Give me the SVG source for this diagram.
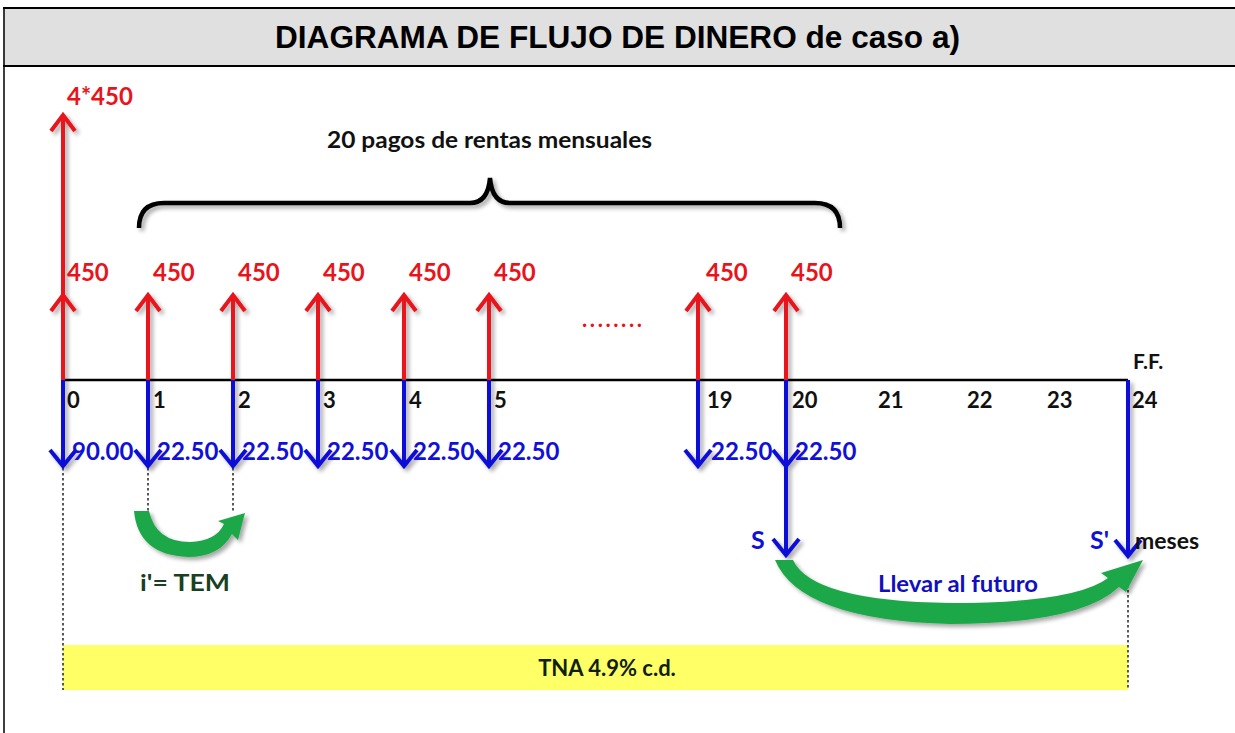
<svg xmlns="http://www.w3.org/2000/svg" width="1235" height="733" viewBox="0 0 1235 733">
<defs>
<style>
.hdr{font-family:"Liberation Sans",Arial,sans-serif;font-weight:bold;font-size:31px;fill:#000}
.t{font-family:Lato,"Open Sans",sans-serif;font-weight:bold}
.red{fill:#e8141c;font-size:24px}
.blue{fill:#1010d8;font-size:24px}
.blk{fill:#111;font-size:22px}
.up{stroke:#e8141c;stroke-width:4;fill:none}
.dn{stroke:#1010d8;stroke-width:4;fill:none}
.dot{stroke:#000;stroke-width:1.3;stroke-dasharray:2.5 2.5;fill:none}
.grn{fill:#1fa84a}
</style>
<filter id="sh" x="-20%" y="-20%" width="140%" height="140%">
<feGaussianBlur in="SourceAlpha" stdDeviation="2"/>
<feOffset dx="3" dy="3" result="b"/>
<feComponentTransfer><feFuncA type="linear" slope="0.35"/></feComponentTransfer>
<feMerge><feMergeNode/><feMergeNode in="SourceGraphic"/></feMerge>
</filter>
</defs>
<rect x="0" y="0" width="1235" height="733" fill="#fff"/>
<g id="header">
<rect x="3" y="8" width="1235" height="58" fill="#e0e0e0"/>
<line x1="3" y1="8" x2="1235" y2="8" stroke="#000" stroke-width="2"/>
<line x1="3" y1="66" x2="1235" y2="66" stroke="#000" stroke-width="2"/>
<line x1="4" y1="8" x2="4" y2="733" stroke="#000" stroke-width="1.5"/>
<text class="hdr" x="275" y="48" textLength="685" lengthAdjust="spacingAndGlyphs">DIAGRAMA DE FLUJO DE DINERO de caso a)</text>
</g>
<g id="band">
<rect x="63" y="645" width="1065" height="45" fill="#ffff66"/>
<text class="t" x="607" y="676" text-anchor="middle" style="font-size:22px;fill:#102010">TNA 4.9% c.d.</text>
</g>
<g id="connectors">
<line class="dot" x1="63" y1="468" x2="63" y2="690"/>
<line class="dot" x1="148" y1="468" x2="148" y2="512"/>
<line class="dot" x1="233" y1="468" x2="233" y2="512"/>
<line class="dot" x1="1128" y1="580" x2="1128" y2="690"/>
</g>
<g id="timeline">
<line x1="63" y1="380" x2="1128" y2="380" stroke="#000" stroke-width="2.5"/>
</g>
<g id="up-arrows" filter="url(#sh)">
<path class="up" d="M63 380V115M51 131L63 115L75 131M51 311L63 295L75 311"/>
<path class="up" d="M148 380V295M136 311L148 295L160 311"/>
<path class="up" d="M233 380V295M221 311L233 295L245 311"/>
<path class="up" d="M318 380V295M306 311L318 295L330 311"/>
<path class="up" d="M404 380V295M392 311L404 295L416 311"/>
<path class="up" d="M489 380V295M477 311L489 295L501 311"/>
<path class="up" d="M698 380V295M686 311L698 295L710 311"/>
<path class="up" d="M786 380V295M774 311L786 295L798 311"/>
</g>
<g id="down-arrows" filter="url(#sh)">
<path class="dn" d="M63 380V466M50 450L63 466L76 450"/>
<path class="dn" d="M148 380V466M135 450L148 466L161 450"/>
<path class="dn" d="M233 380V466M220 450L233 466L246 450"/>
<path class="dn" d="M318 380V466M305 450L318 466L331 450"/>
<path class="dn" d="M404 380V466M391 450L404 466L417 450"/>
<path class="dn" d="M489 380V466M476 450L489 466L502 450"/>
<path class="dn" d="M698 380V466M685 450L698 466L711 450"/>
<path class="dn" d="M786 380V555M773 450L786 466L799 450M773 539L786 555L799 539"/>
<path class="dn" d="M1128 380V556M1115 540L1128 556L1141 540"/>
</g>
<g id="brace" filter="url(#sh)">
<path d="M139 228Q139 203 164 203H470Q488 203 490 178Q492 203 510 203H815Q840 203 840 228" stroke="#000" stroke-width="4.5" fill="none"/>
</g>
<g id="green-arrows" filter="url(#sh)">
<path class="grn" d="M134 511L149 511Q156 542 190 542Q216 541 224 524L218 521L245 513L238 540L232 534Q220 557 188 557Q138 555 134 511Z"/>
<path class="grn" d="M775 560L793 560Q812 601 950 603Q1075 603 1108 578L1101 573L1143 560L1126 592L1119 587Q1080 624 950 624Q800 620 775 560Z"/>
</g>
<g id="labels">
<text class="t red" x="67" y="105">4*450</text>
<text class="t red" x="67" y="281">450</text>
<text class="t red" x="153" y="281">450</text>
<text class="t red" x="238" y="281">450</text>
<text class="t red" x="323" y="281">450</text>
<text class="t red" x="409" y="281">450</text>
<text class="t red" x="494" y="281">450</text>
<text class="t red" x="706" y="281">450</text>
<text class="t red" x="791" y="281">450</text>
<text class="t red" x="582" y="327" textLength="60" style="font-size:22px">........</text>
<text class="t" x="327" y="148" textLength="325" lengthAdjust="spacingAndGlyphs" style="font-size:23px;fill:#111">20 pagos de rentas mensuales</text>
<text class="t blk" x="67" y="408">0</text>
<text class="t blk" x="153" y="408">1</text>
<text class="t blk" x="238" y="408">2</text>
<text class="t blk" x="323" y="408">3</text>
<text class="t blk" x="409" y="408">4</text>
<text class="t blk" x="494" y="408">5</text>
<text class="t blk" x="707" y="408">19</text>
<text class="t blk" x="792" y="408">20</text>
<text class="t blk" x="878" y="408">21</text>
<text class="t blk" x="967" y="408">22</text>
<text class="t blk" x="1047" y="408">23</text>
<text class="t blk" x="1132" y="408">24</text>
<text class="t" x="1133" y="369" style="font-size:21px;fill:#111">F.F.</text>
<text class="t blue" x="72" y="460">90.00</text>
<text class="t blue" x="157" y="460">22.50</text>
<text class="t blue" x="242" y="460">22.50</text>
<text class="t blue" x="327" y="460">22.50</text>
<text class="t blue" x="413" y="460">22.50</text>
<text class="t blue" x="498" y="460">22.50</text>
<text class="t blue" x="711" y="460">22.50</text>
<text class="t blue" x="795" y="460">22.50</text>
<text class="t blue" x="751" y="549" style="font-size:25px">S</text>
<text class="t blue" x="1090" y="549" style="font-size:25px">S'</text>
<text class="t" x="1135" y="549" style="font-size:23px;fill:#111">meses</text>
<text class="t" x="140" y="591" textLength="90" lengthAdjust="spacingAndGlyphs" style="font-size:23px;fill:#1a4020">i'= TEM</text>
<text class="t" x="878" y="592" textLength="160" lengthAdjust="spacingAndGlyphs" style="font-size:23px;fill:#1010c0">Llevar al futuro</text>
</g>
</svg>
